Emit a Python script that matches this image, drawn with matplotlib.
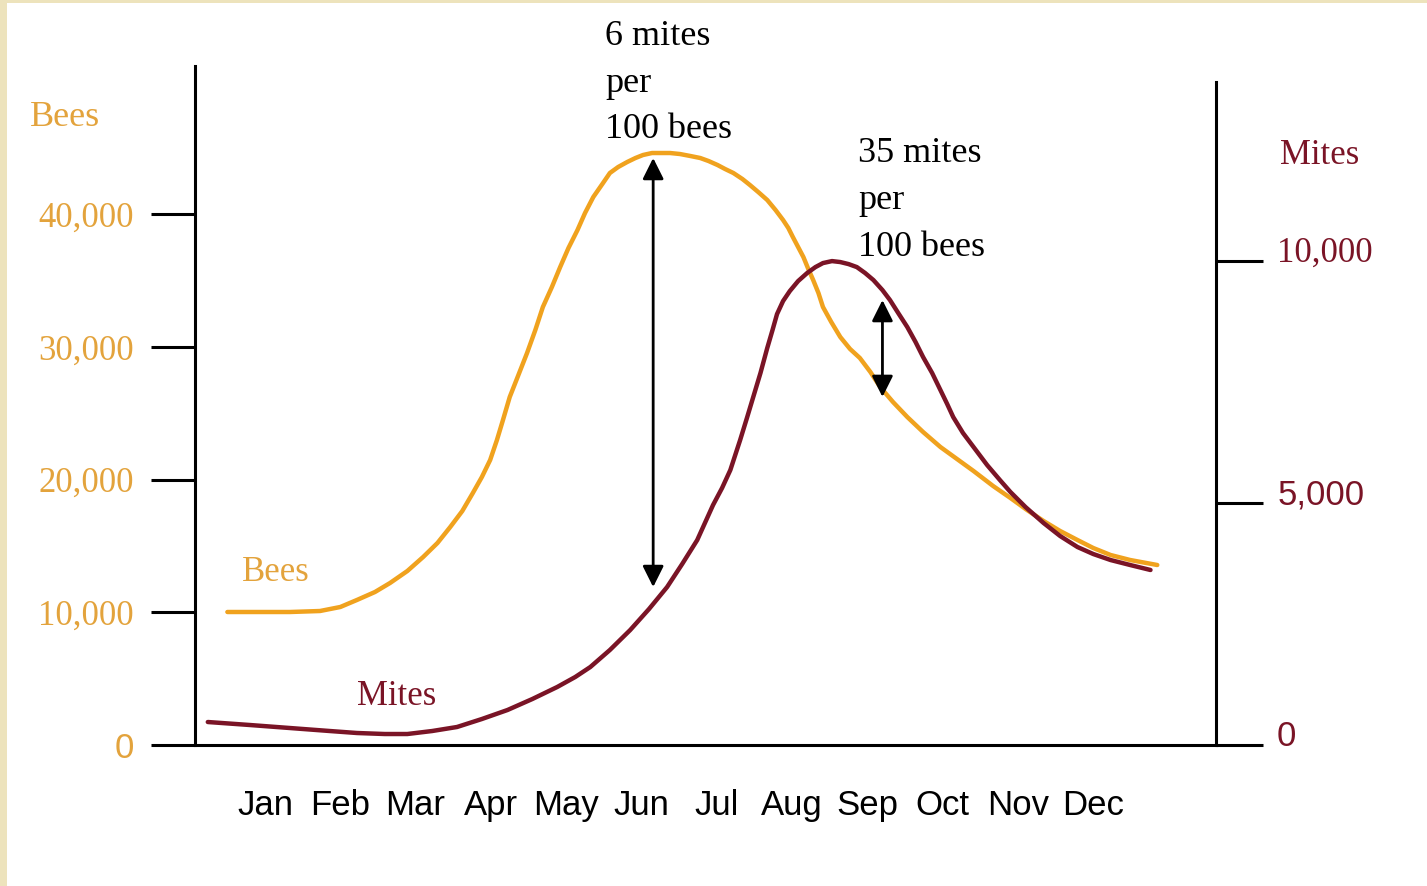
import matplotlib
matplotlib.use("Agg")
import matplotlib.pyplot as plt
from matplotlib.patches import Rectangle
from matplotlib.transforms import ScaledTranslation

# month positions (0 = Jan) and colony sizes
months = ["Jan", "Feb", "Mar", "Apr", "May", "Jun", "Jul", "Aug", "Sep", "Oct", "Nov", "Dec"]

bees_x = [-0.50, -0.07, 0.33, 0.73, 1.00, 1.22, 1.46, 1.66, 1.89, 2.10,
          2.29, 2.46, 2.62, 2.76, 2.88, 2.99, 3.08, 3.16, 3.25, 3.36,
          3.48, 3.59, 3.69, 3.81, 3.92, 4.03, 4.15, 4.25, 4.36, 4.48,
          4.58, 4.69, 4.81, 4.92, 5.02, 5.14, 5.25, 5.38, 5.51, 5.65,
          5.78, 5.89, 6.01, 6.11, 6.22, 6.34, 6.44, 6.55, 6.67, 6.78,
          6.88, 6.95, 7.01, 7.08, 7.15, 7.21, 7.28, 7.35, 7.41, 7.52,
          7.64, 7.77, 7.90, 8.04, 8.17, 8.34, 8.53, 8.74, 8.97, 9.19,
          9.41, 9.67, 9.90, 10.12, 10.34, 10.56, 10.79, 11.00, 11.23, 11.49,
          11.85]
bees_y = [10019, 10019, 10019, 10094, 10396, 10923, 11525, 12203, 13107, 14162,
          15217, 16422, 17627, 18983, 20188, 21469, 22976, 24480, 26215, 27797,
          29529, 31262, 32995, 34501, 36008, 37439, 38795, 40076, 41281, 42260,
          43089, 43541, 43917, 44219, 44445, 44595, 44595, 44595, 44520, 44369,
          44219, 43993, 43691, 43390, 43089, 42637, 42185, 41657, 41055, 40302,
          39548, 38946, 38268, 37514, 36761, 35932, 35028, 34049, 32995, 31865,
          30735, 29831, 29153, 28098, 26968, 25838, 24708, 23578, 22448, 21544,
          20640, 19510, 18607, 17703, 16874, 16121, 15443, 14840, 14313, 13936,
          13559]

mites_x = [-0.76, -0.20, 0.33, 0.86, 1.22, 1.59, 1.89, 2.22, 2.55, 2.88,
           3.22, 3.55, 3.88, 4.12, 4.32, 4.58, 4.85, 5.10, 5.34, 5.54,
           5.74, 5.95, 6.07, 6.18, 6.31, 6.40, 6.48, 6.58, 6.67, 6.74,
           6.80, 6.88, 6.97, 7.08, 7.20, 7.31, 7.41, 7.53, 7.64, 7.75,
           7.86, 7.97, 8.08, 8.20, 8.30, 8.41, 8.53, 8.64, 8.74, 8.86,
           8.97, 9.06, 9.14, 9.27, 9.41, 9.59, 9.76, 9.90, 10.10, 10.34,
           10.56, 10.79, 11.00, 11.23, 11.49, 11.76]
mites_y = [475, 413, 351, 289, 248, 227, 227, 289, 372, 537,
           723, 950, 1198, 1405, 1611, 1963, 2376, 2810, 3264, 3739,
           4235, 4958, 5310, 5682, 6301, 6756, 7169, 7686, 8202, 8574,
           8904, 9173, 9380, 9586, 9752, 9875, 9958, 9999, 9979, 9937,
           9875, 9752, 9607, 9400, 9194, 8925, 8636, 8326, 8016, 7686,
           7334, 7045, 6776, 6446, 6157, 5785, 5475, 5227, 4917, 4587,
           4318, 4091, 3946, 3822, 3719, 3616]

bee_ticks = [0, 10000, 20000, 30000, 40000]
bee_labels = ["0", "10,000", "20,000", "30,000", "40,000"]
mite_ticks = [0, 5000, 10000]
mite_labels = ["0", "5,000", "10,000"]

# arrows: (month, bees top, bees bottom)
arrow_big = (5.155, 44220, 11900)
arrow_small = (8.2, 33520, 26220)

ORANGE = "#F0A21E"
ORANGE_TXT = "#E3A33C"
DARKRED = "#7A1426"
SERIF = ["Liberation Serif", "DejaVu Serif"]
SANS = ["Liberation Sans", "DejaVu Sans"]

fig = plt.figure(figsize=(14.27, 8.86), dpi=100)
fig.patch.set_facecolor("#EDE3BC")
fig.add_artist(Rectangle((7 / 1427, 0), 1, 1 - 3 / 886, transform=fig.transFigure,
                         facecolor="white", edgecolor="none", zorder=-10))

ax = fig.add_axes([195 / 1427, 141 / 886, 1021 / 1427, 679 / 886])
ax.patch.set_alpha(0)
ax.set_xlim(-0.93, 12.63)
ax.set_ylim(0, 51150)

ax2 = ax.twinx()
ax2.set_ylim(0, 14030)

ax.plot(bees_x, bees_y, color=ORANGE, lw=3.2, solid_capstyle="round",
        solid_joinstyle="round", zorder=3)
ax2.plot(mites_x, mites_y, color=DARKRED, lw=3.2, solid_capstyle="round",
         solid_joinstyle="round", zorder=3)

for sp in ["top", "right"]:
    ax.spines[sp].set_visible(False)
for sp in ["top", "left", "bottom"]:
    ax2.spines[sp].set_visible(False)
ax.spines["left"].set_linewidth(2.2)
ax.spines["bottom"].set_linewidth(2.2)
ax2.spines["right"].set_linewidth(2.2)
ax2.spines["right"].set_bounds(0, 13700)

ax.set_xticks(range(len(months)))
ax.set_xticklabels(months, fontsize=25, family=SANS)
ax.tick_params(axis="x", length=0, pad=32)

ax.set_yticks(bee_ticks)
ax.set_yticklabels(bee_labels, fontsize=25, family=SERIF)
ax.tick_params(axis="y", length=32, width=2.2, pad=12, labelcolor=ORANGE_TXT)

ax2.set_yticks(mite_ticks)
ax2.set_yticklabels(mite_labels, fontsize=25, family=SERIF)
ax2.tick_params(axis="y", length=34, width=2.2, pad=10, labelcolor=DARKRED)
shift = ScaledTranslation(0, 12 / 100, fig.dpi_scale_trans)
for lab in ax2.get_yticklabels():
    lab.set_transform(lab.get_transform() + shift)
ax.get_yticklabels()[0].set_family(SANS)
ax2.get_yticklabels()[0].set_family(SANS)
ax2.get_yticklabels()[1].set_family(SANS)

# axis titles
fig.text(30 / 1427, 1 - 117 / 886, "Bees", color=ORANGE_TXT, fontsize=26, family=SERIF,
         ha="left", va="center")
fig.text(1280 / 1427, 1 - 155 / 886, "Mites", color=DARKRED, fontsize=25, family=SERIF,
         ha="left", va="center")

# inline line labels
ax.text(-0.3, 13030, "Bees", color=ORANGE_TXT, fontsize=25, family=SERIF, va="center")
ax.text(1.22, 3616, "Mites", color=DARKRED, fontsize=25, family=SERIF, va="center")

# ratio arrows
for mx, top, bot in [arrow_big, arrow_small]:
    ax.annotate("", xy=(mx, top), xytext=(mx, bot),
                arrowprops=dict(arrowstyle="<|-|>", color="black", lw=2,
                                mutation_scale=32, shrinkA=0, shrinkB=0))

ax.text(4.52, 54620, "6 mites\nper\n100 bees", fontsize=26, family=SERIF,
        va="top", ha="left", linespacing=1.55)
ax.text(7.88, 45770, "35 mites\nper\n100 bees", fontsize=26, family=SERIF,
        va="top", ha="left", linespacing=1.55)

fig.savefig("out.png", dpi=100, facecolor=fig.get_facecolor())
